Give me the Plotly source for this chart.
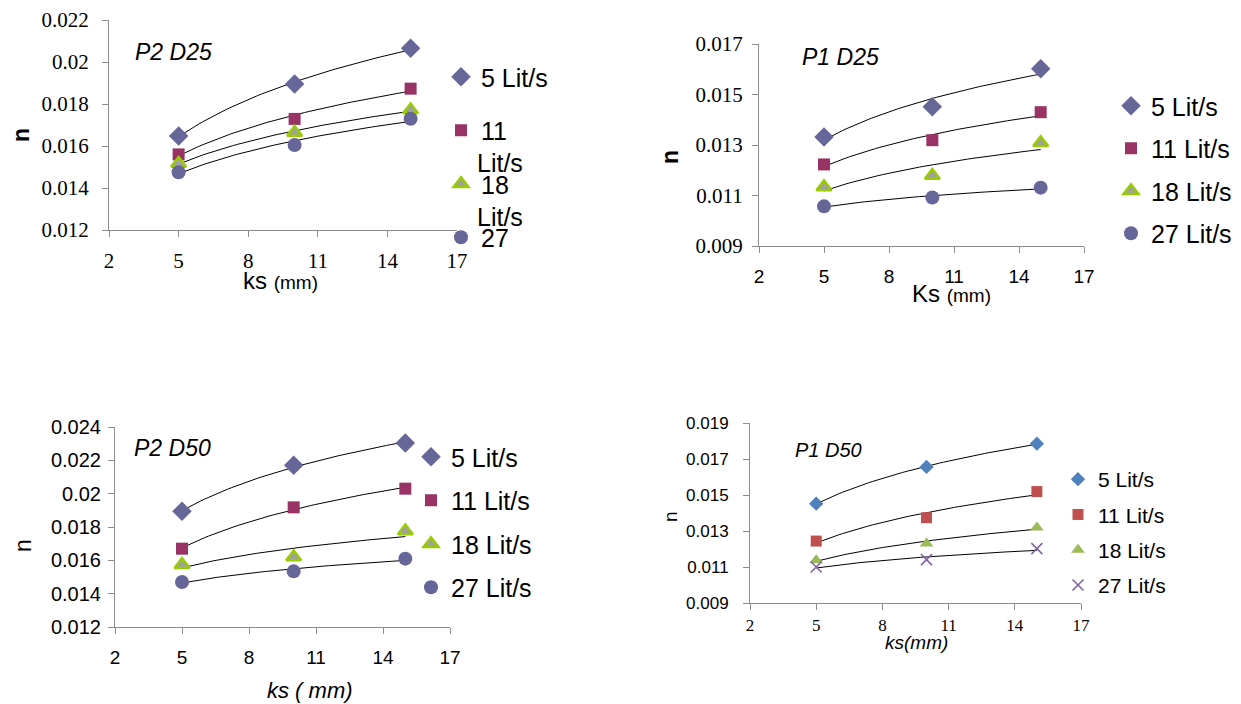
import numpy as np
import plotly.graph_objects as go

W, H = 1241, 704
PAGE_OFFSET = 8  # default body margin of the html page

# ---------------- data ----------------
ks = [5, 10, 15]
series_names = ["5 Lit/s", "11 Lit/s", "18 Lit/s", "27 Lit/s"]
p2d25_legend_names = ["5 Lit/s", "11", "18", "27"]

# P2 D25 (top-left)
p2d25_q5 = [0.01648, 0.01895, 0.02065]
p2d25_q11 = [0.01560, 0.01729, 0.01873]
p2d25_q18 = [0.01517, 0.01664, 0.01771]
p2d25_q27 = [0.01475, 0.01605, 0.01730]

# P1 D25 (top-right)
p1d25_q5 = [0.01332, 0.01451, 0.01602]
p1d25_q11 = [0.01223, 0.01319, 0.01430]
p1d25_q18 = [0.01134, 0.01179, 0.01309]
p1d25_q27 = [0.01057, 0.01092, 0.01131]

# P2 D50 (bottom-left)
p2d50_q5 = [0.01894, 0.02170, 0.02304]
p2d50_q11 = [0.01670, 0.01918, 0.02030]
p2d50_q18 = [0.01574, 0.01620, 0.01776]
p2d50_q27 = [0.01470, 0.01534, 0.01610]

# P1 D50 (bottom-right)
p1d50_q5 = [0.01452, 0.01656, 0.01785]
p1d50_q11 = [0.01244, 0.01374, 0.01519]
p1d50_q18 = [0.01137, 0.01230, 0.01319]
p1d50_q27 = [0.01100, 0.01141, 0.01202]

x_ticks = [2, 5, 8, 11, 14, 17]
p2d25_yticks = [0.012, 0.014, 0.016, 0.018, 0.020, 0.022]
p2d25_ytext = ["0.012", "0.014", "0.016", "0.018", "0.02", "0.022"]
p1d25_yticks = [0.009, 0.011, 0.013, 0.015, 0.017]
p1d25_ytext = ["0.009", "0.011", "0.013", "0.015", "0.017"]
p2d50_yticks = [0.012, 0.014, 0.016, 0.018, 0.020, 0.022, 0.024]
p2d50_ytext = ["0.012", "0.014", "0.016", "0.018", "0.02", "0.022", "0.024"]
p1d50_yticks = [0.009, 0.011, 0.013, 0.015, 0.017, 0.019]
p1d50_ytext = ["0.009", "0.011", "0.013", "0.015", "0.017", "0.019"]

# ---------------- helpers ----------------
def fx(p):
    return (p - PAGE_OFFSET) / W

def fy(p):
    return 1 - (p - PAGE_OFFSET) / H

SERIF = "Liberation Serif, Times New Roman, serif"
SANS = "Liberation Sans, Arial, sans-serif"
AXC = "#8c8c8c"

OLD_BLUE = "#666699"
OLD_MAROON = "#993366"
OLD_GREEN = "#99CC00"
OLD_GRAY = "#A0A0A0"

old_styles = [
    dict(symbol="diamond", size=15, color=OLD_BLUE),
    dict(symbol="square", size=12, color=OLD_MAROON),
    dict(symbol="triangle-up", size=13, color=OLD_GRAY, line=dict(color=OLD_GREEN, width=2.5)),
    dict(symbol="circle", size=14, color=OLD_BLUE),
]
new_styles = [
    dict(symbol="diamond", size=11, color="#4F81BD"),
    dict(symbol="square", size=11, color="#C0504D"),
    dict(symbol="triangle-up", size=12, color="#9BBB59"),
    dict(symbol="x-thin-open", size=11, line=dict(color="#8064A2", width=1.6), color="#8064A2"),
]

panels = [
    dict(ax="", series=[p2d25_q5, p2d25_q11, p2d25_q18, p2d25_q27], names=p2d25_legend_names,
         styles=old_styles, legend="legend"),
    dict(ax="2", series=[p1d25_q5, p1d25_q11, p1d25_q18, p1d25_q27], names=series_names,
         styles=old_styles, legend="legend2"),
    dict(ax="3", series=[p2d50_q5, p2d50_q11, p2d50_q18, p2d50_q27], names=series_names,
         styles=old_styles, legend="legend3"),
    dict(ax="4", series=[p1d50_q5, p1d50_q11, p1d50_q18, p1d50_q27], names=series_names,
         styles=new_styles, legend="legend4"),
]

fig = go.Figure()
x_arr = np.array(ks, dtype=float)
x_dense = np.linspace(min(ks), max(ks), 60)
for pi, p in enumerate(panels):
    xa, ya = "x" + p["ax"], "y" + p["ax"]
    for si, (yv, nm, st) in enumerate(zip(p["series"], p["names"], p["styles"])):
        # logarithmic trendline fitted to the data
        a, b = np.polyfit(np.log(x_arr), np.array(yv), 1)
        fig.add_trace(go.Scatter(x=x_dense, y=a * np.log(x_dense) + b, mode="lines",
                                 line=dict(color="black", width=1), showlegend=False,
                                 hoverinfo="skip", xaxis=xa, yaxis=ya, cliponaxis=False))
    for si, (yv, nm, st) in enumerate(zip(p["series"], p["names"], p["styles"])):
        fig.add_trace(go.Scatter(x=ks, y=yv, mode="markers", name=nm, marker=st,
                                 xaxis=xa, yaxis=ya, legend=p["legend"],
                                 legendgroup=f"g{pi}_{si}", cliponaxis=False))

def xaxis(dom, anchor, font, standoff):
    return dict(domain=dom, anchor=anchor, range=[2, 17], tickvals=x_ticks,
                showgrid=False, zeroline=False, showline=True, linecolor=AXC, linewidth=1,
                ticks="outside", ticklen=6, tickcolor=AXC, tickfont=font,
                ticklabelstandoff=standoff, fixedrange=True, automargin=False)

def yaxis(dom, anchor, rng, tv, tt, font, standoff):
    return dict(domain=dom, anchor=anchor, range=rng, tickvals=tv, ticktext=tt,
                showgrid=False, zeroline=False, showline=True, linecolor=AXC, linewidth=1,
                ticks="outside", ticklen=6, tickcolor=AXC, tickfont=font,
                ticklabelstandoff=standoff, fixedrange=True, automargin=False)

# panel rectangles (pixels, page coordinates)
P1 = (109, 457, 20, 230)
P2 = (759, 1084, 44, 246)
P3 = (115, 450, 427, 627)
P4 = (750, 1081, 423, 603)

def xd(P):
    return [fx(P[0]), fx(P[1])]

def yd(P):
    return [fy(P[3]), fy(P[2])]

lay = dict(
    width=W, height=H, margin=dict(l=0, r=0, t=0, b=0, autoexpand=False),
    template="none",
    paper_bgcolor="white", plot_bgcolor="white",
    xaxis=xaxis(xd(P1), "y", dict(family=SERIF, size=21, color="black"), 6),
    yaxis=yaxis(yd(P1), "x", [0.012, 0.022], p2d25_yticks, p2d25_ytext,
                dict(family=SERIF, size=21, color="black"), 9),
    xaxis2=xaxis(xd(P2), "y2", dict(family=SANS, size=19, color="black"), 7),
    yaxis2=yaxis(yd(P2), "x2", [0.009, 0.017], p1d25_yticks, p1d25_ytext,
                 dict(family=SERIF, size=21, color="black"), 5),
    xaxis3=xaxis(xd(P3), "y3", dict(family=SANS, size=19, color="black"), 7),
    yaxis3=yaxis(yd(P3), "x3", [0.012, 0.024], p2d50_yticks, p2d50_ytext,
                 dict(family=SANS, size=20, color="black"), 3),
    xaxis4=xaxis(xd(P4), "y4", dict(family=SERIF, size=17, color="black"), 1),
    yaxis4=yaxis(yd(P4), "x4", [0.009, 0.019], p1d50_yticks, p1d50_ytext,
                 dict(family=SANS, size=17, color="black"), 11),
)

def legend(xpx, ytop, size, gap):
    return dict(x=fx(xpx), y=fy(ytop), xanchor="left", yanchor="top",
                font=dict(family=SANS, size=size, color="black"),
                bgcolor="rgba(0,0,0,0)", borderwidth=0, tracegroupgap=gap,
                itemclick=False, itemdoubleclick=False)

lay["legend"] = legend(441, 54, 25, 18)
lay["legend2"] = legend(1111, 83, 25, 7)
lay["legend3"] = legend(411, 434, 25, 8)
lay["legend4"] = legend(1058, 459, 21, 5)
fig.update_layout(**lay)

def ann(text, x, y, size, family=SANS, xanchor="center", angle=0, italic=False, bold=False):
    fig.add_annotation(text=text, x=fx(x), y=fy(y), xref="paper", yref="paper",
                       xanchor=xanchor, yanchor="middle", showarrow=False, textangle=angle,
                       font=dict(family=family, size=size, color="black",
                                 style="italic" if italic else "normal",
                                 weight="bold" if bold else "normal"))

# chart labels
ann("P2 D25", 133, 52, 23, xanchor="left", italic=True)
ann("P1 D25", 800, 57, 23, xanchor="left", italic=True)
ann("P2 D50", 132, 448, 23, xanchor="left", italic=True)
ann("P1 D50", 793, 450, 20, xanchor="left", italic=True)

# y-axis titles
ann("n", 21, 135, 23, angle=-90, bold=True)
ann("n", 670, 157, 23, angle=-90, bold=True)
ann("n", 23, 546, 23, angle=-90)
ann("n", 670, 517, 19, angle=-90)

# x-axis titles
ann("ks <span style='font-size:19px'>(mm)</span>", 280, 281, 24)
ann("Ks <span style='font-size:19px'>(mm)</span>", 951, 293, 24)
ann("ks ( mm)", 310, 690, 22, italic=True)
ann("ks(mm)", 916, 642, 19, italic=True)

# wrapped legend text continuation (top-left legend)
ann("Lit/s", 475, 163, 25, xanchor="left")
ann("Lit/s", 475, 217, 25, xanchor="left")

fig.write_html("out.html")
